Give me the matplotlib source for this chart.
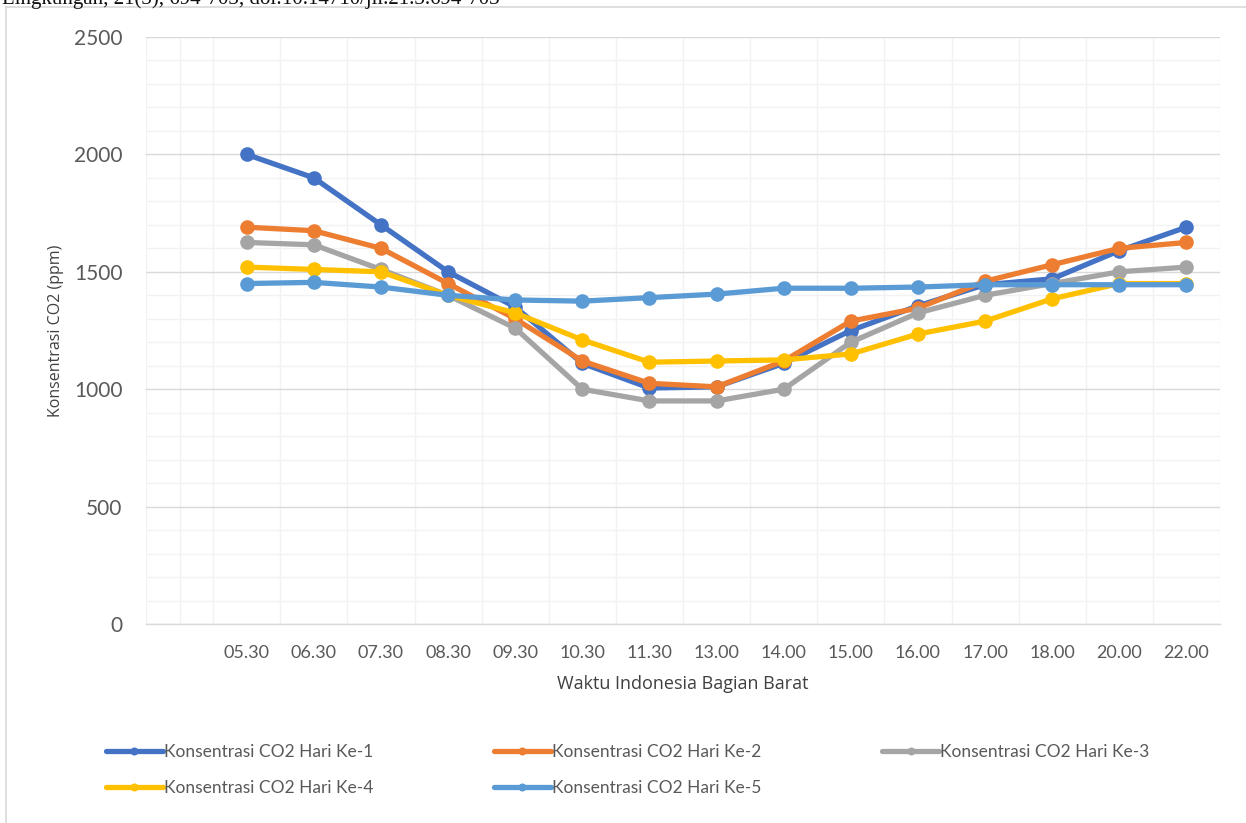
import matplotlib
matplotlib.use("Agg")
import matplotlib.pyplot as plt
from matplotlib.lines import Line2D
from matplotlib.ticker import MultipleLocator, FixedLocator

# hourly CO2 readings (ppm), five measurement days
jam = ["05.30", "06.30", "07.30", "08.30", "09.30", "10.30", "11.30", "13.00",
       "14.00", "15.00", "16.00", "17.00", "18.00", "20.00", "22.00"]
hari_1 = [2000, 1900, 1700, 1500, 1350, 1110, 1005, 1010, 1110, 1250, 1355, 1445, 1470, 1590, 1690]
hari_2 = [1690, 1675, 1600, 1450, 1300, 1120, 1025, 1010, 1120, 1290, 1345, 1460, 1530, 1600, 1625]
hari_3 = [1625, 1615, 1510, 1400, 1260, 1000, 950, 950, 1000, 1200, 1325, 1400, 1450, 1500, 1520]
hari_4 = [1520, 1510, 1500, 1400, 1325, 1210, 1115, 1120, 1125, 1150, 1235, 1290, 1385, 1450, 1450]
hari_5 = [1450, 1455, 1435, 1400, 1380, 1375, 1390, 1405, 1430, 1430, 1435, 1445, 1445, 1445, 1445]

series = [
    ("Konsentrasi CO2 Hari Ke-1", hari_1, "#4472C4"),
    ("Konsentrasi CO2 Hari Ke-2", hari_2, "#ED7D31"),
    ("Konsentrasi CO2 Hari Ke-3", hari_3, "#A5A5A5"),
    ("Konsentrasi CO2 Hari Ke-4", hari_4, "#FFC000"),
    ("Konsentrasi CO2 Hari Ke-5", hari_5, "#5B9BD5"),
]

W, H = 1246, 823
fig = plt.figure(figsize=(W / 100, H / 100), dpi=100)
ax = fig.add_axes([146 / W, 1 - 624 / H, (1220 - 146) / W, (624 - 37) / H])

# first category slot is left empty on the axis
xs = list(range(1, len(jam) + 1))

handles = []
for label, values, color in series:
    (ln,) = ax.plot(xs, values, color=color, linewidth=3.8, marker="o",
                    markersize=10.5, markeredgewidth=0, label=label,
                    solid_joinstyle="round", solid_capstyle="round", zorder=3)
    handles.append(ln)

ax.set_xlim(-0.5, len(jam) + 0.5)
ax.set_ylim(0, 2500)
ax.xaxis.set_major_locator(FixedLocator(xs))
ax.set_xticklabels(jam)
ax.xaxis.set_minor_locator(MultipleLocator(0.5))
ax.yaxis.set_major_locator(MultipleLocator(500))
ax.yaxis.set_minor_locator(MultipleLocator(100))

ax.grid(False)
ax.grid(True, which="minor", axis="both", color="#F2F2F2", linewidth=1.0, zorder=0)
ax.grid(True, which="major", axis="y", color="#D9D9D9", linewidth=1.0, zorder=1)
ax.set_axisbelow(True)

for side in ("top", "right", "left"):
    ax.spines[side].set_visible(False)
ax.spines["bottom"].set_color("#D9D9D9")
ax.spines["bottom"].set_linewidth(1.0)

ax.tick_params(axis="both", which="both", length=0)
ax.tick_params(axis="x", labelsize=13, labelcolor="#595959", pad=15)
ax.tick_params(axis="y", labelsize=15, labelcolor="#595959", pad=17)
for t in ax.get_xticklabels() + ax.get_yticklabels():
    t.set_fontfamily("Lato")

ax.set_xlabel("Waktu Indonesia Bagian Barat", fontsize=13, color="#404040",
              fontfamily="Open Sans", labelpad=10)
ax.set_ylabel("Konsentrasi CO2 (ppm)", fontsize=11.5, color="#404040",
              fontfamily="Open Sans", labelpad=7)

# legend laid out row by row in three columns
order = [0, 3, 1, 4, 2]
leg = fig.legend([handles[i] for i in order], [series[i][0] for i in order],
                 ncol=3, loc="upper left", bbox_to_anchor=(90 / W, 1 - 728 / H),
                 frameon=False, handlelength=3.3, handletextpad=0.05,
                 columnspacing=6.95, labelspacing=1.2, markerscale=0.55,
                 prop={"family": "Lato", "size": 12.5})
for t in leg.get_texts():
    t.set_color("#595959")

# chart frame and the running header above it
fig.add_artist(Line2D([6 / W, 6 / W], [0, 1 - 7 / H], color="#D9D9D9", linewidth=1.2))
fig.add_artist(Line2D([6 / W, 1], [1 - 7 / H, 1 - 7 / H], color="#D9D9D9", linewidth=1.2))
fig.text(2 / W, 1 - 4 / H, "Lingkungan, 21(3), 694-703, doi:10.14710/jil.21.3.694-703",
         fontsize=15, fontfamily="Liberation Serif", color="#111111", va="baseline")

fig.savefig("out.png", dpi=100)
